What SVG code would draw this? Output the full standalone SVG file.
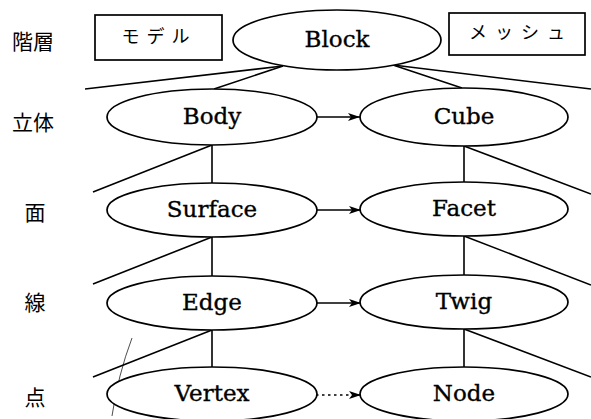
<svg xmlns="http://www.w3.org/2000/svg" width="591" height="419" viewBox="0 0 591 419">
<style>
.n{fill:#fff;stroke:#000;stroke-width:1.7}
.t{font-family:"DejaVu Serif","Liberation Serif",serif;font-size:23px;text-anchor:middle;fill:#000;stroke:#000;stroke-width:0.35}
.j{font-family:"Noto Sans CJK JP",sans-serif;font-size:21px;text-anchor:middle;fill:#000}
.k{font-family:"Noto Sans CJK JP",sans-serif;font-size:18px;text-anchor:middle;fill:#000}
.c line,.c path{stroke:#000;stroke-width:1.6;fill:none}
</style>
<defs>
<marker id="ah" viewBox="0 0 12 8" refX="12" refY="4" markerWidth="12" markerHeight="8" markerUnits="userSpaceOnUse" orient="auto">
<path d="M0,0 L12,4 L0,8 L3,4 Z" fill="#000"/>
</marker>
</defs>
<rect width="591" height="419" fill="#fff"/>
<g id="levels">
<text class="j" x="33" y="49">階層</text>
<text class="j" x="33" y="130">立体</text>
<text class="j" x="35" y="220">面</text>
<text class="j" x="35" y="310">線</text>
<text class="j" x="35" y="405">点</text>
</g>
<g class="c" id="connectors">
<line x1="283" y1="66" x2="85" y2="89"/>
<line x1="283" y1="66" x2="214" y2="89"/>
<line x1="393" y1="65" x2="462" y2="88"/>
<line x1="393" y1="65" x2="591" y2="89"/>
<line x1="212" y1="145" x2="212" y2="183"/>
<line x1="212" y1="145" x2="93" y2="192"/>
<line x1="464" y1="146" x2="464" y2="182"/>
<line x1="464" y1="146" x2="591" y2="194"/>
<line x1="212" y1="237" x2="212" y2="276"/>
<line x1="212" y1="237" x2="93" y2="284"/>
<line x1="464" y1="236" x2="464" y2="275"/>
<line x1="464" y1="236" x2="591" y2="285"/>
<line x1="212" y1="330" x2="212" y2="367"/>
<line x1="212" y1="330" x2="93" y2="377"/>
<line x1="464" y1="329" x2="464" y2="367"/>
<line x1="464" y1="329" x2="591" y2="377"/>
<line x1="316" y1="117" x2="360" y2="117" marker-end="url(#ah)"/>
<line x1="316" y1="210" x2="361" y2="210" marker-end="url(#ah)"/>
<line x1="316" y1="303" x2="361" y2="303" marker-end="url(#ah)"/>
<line x1="316" y1="395" x2="361" y2="395" stroke-dasharray="2.5,3.5" marker-end="url(#ah)"/>
<path d="M132,338 Q118,375 112,416" style="stroke-width:0.7"/>
</g>
<g id="model"><rect x="95" y="15" width="127" height="45" class="n"/><text class="k" x="159" y="43" letter-spacing="7">モデル</text></g>
<g id="mesh"><rect x="449" y="13" width="136" height="42" class="n"/><text class="k" x="521" y="39" letter-spacing="8">メッシュ</text></g>
<g id="block"><ellipse cx="337" cy="40" rx="104" ry="30" class="n"/><text class="t" x="337" y="47">Block</text></g>
<g id="body"><ellipse cx="212" cy="117" rx="105" ry="28" class="n"/><text class="t" x="212" y="124">Body</text></g>
<g id="cube"><ellipse cx="464" cy="117" rx="104" ry="29" class="n"/><text class="t" x="464" y="124">Cube</text></g>
<g id="surface"><ellipse cx="212" cy="210" rx="105" ry="27" class="n"/><text class="t" x="212" y="217">Surface</text></g>
<g id="facet"><ellipse cx="464" cy="209" rx="104" ry="27" class="n"/><text class="t" x="464" y="216">Facet</text></g>
<g id="edge"><ellipse cx="212" cy="303" rx="105" ry="27" class="n"/><text class="t" x="212" y="310">Edge</text></g>
<g id="twig"><ellipse cx="464" cy="302" rx="104" ry="27" class="n"/><text class="t" x="464" y="309">Twig</text></g>
<g id="vertex"><ellipse cx="212" cy="394" rx="105" ry="27" class="n"/><text class="t" x="212" y="401">Vertex</text></g>
<g id="node"><ellipse cx="464" cy="394" rx="104" ry="27" class="n"/><text class="t" x="464" y="401">Node</text></g>
</svg>
